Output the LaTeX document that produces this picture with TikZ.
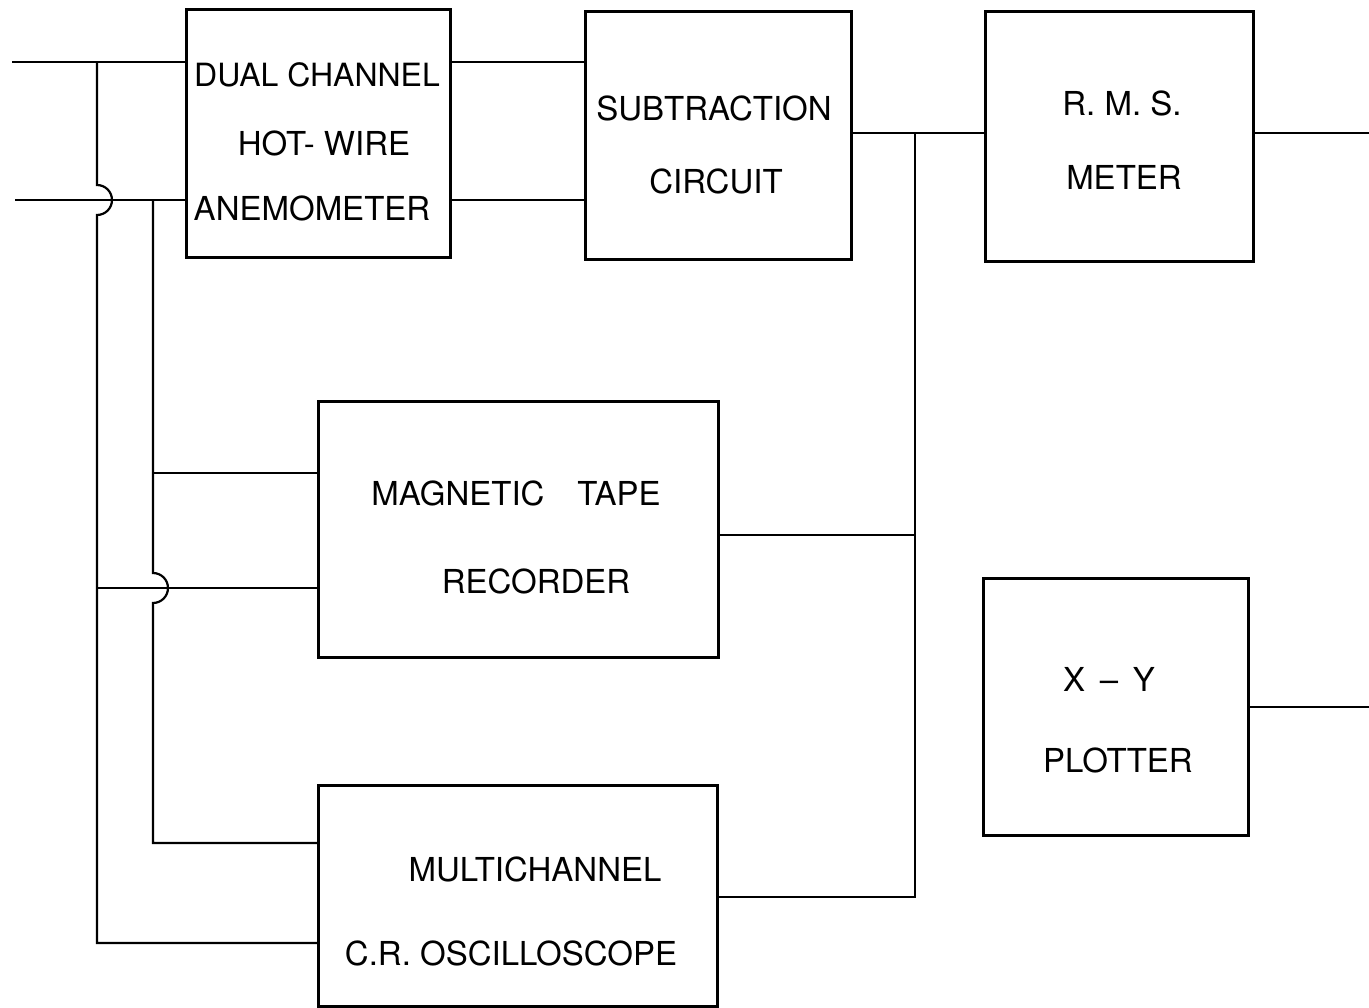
\documentclass[tikz,border=0pt]{standalone}
\usepackage{fontspec}
\setmainfont{TeX Gyre Heros}
\begin{document}
\begin{tikzpicture}[x=1pt,y=-1pt,
  box/.style={draw,line width=3pt,inner sep=0pt,outer sep=0pt},
  lbl/.style={inner sep=0pt,font=\fontsize{33}{38}\selectfont},
  wire/.style={line width=2.2pt,line join=miter}]
\useasboundingbox (0,0) rectangle (1369,1008);
% boxes
\node[box,minimum width=264pt,minimum height=248pt] (anem) at (318,134) {};
\node[box,minimum width=266pt,minimum height=248pt] (sub) at (718,136) {};
\node[box,minimum width=268pt,minimum height=250pt] (rms) at (1119,137) {};
\node[box,minimum width=400pt,minimum height=255pt] (tape) at (518,529.5) {};
\node[box,minimum width=399pt,minimum height=221pt] (osc) at (517.5,895.5) {};
\node[box,minimum width=265pt,minimum height=257pt] (xy) at (1115.5,706.5) {};
% labels
\node[lbl,font=\fontsize{32}{38}\selectfont] (t1) at (317,75) {DUAL CHANNEL};
\node[lbl] (t2) at (324,143) {HOT- WIRE};
\node[lbl] (t3) at (312,208) {ANEMOMETER};
\node[lbl] (t4) at (714,108) {SUBTRACTION};
\node[lbl] (t5) at (716,181) {CIRCUIT};
\node[lbl] (t6) at (1122,103) {R. M. S.};
\node[lbl] (t7) at (1124,177) {METER};
\node[lbl] (t8) at (516,493) {MAGNETIC\quad TAPE};
\node[lbl] (t9) at (536,581) {RECORDER};
\node[lbl] (t10) at (535,869) {MULTICHANNEL};
\node[lbl] (t11) at (511,953) {C.R. OSCILLOSCOPE};
\node[lbl] (t12) at (1109,679) {X\, -- \,Y};
\node[lbl] (t13) at (1118,760) {PLOTTER};
% coordinates
\coordinate (in1) at (12,62);
\coordinate (in2) at (15,200);
\coordinate (ja) at (97,62);
\coordinate (jb) at (153,200);
\coordinate (j1) at (915,133);
\coordinate (j2) at (915,535);
\coordinate (j3) at (915,897);
\coordinate (out1) at (1369,133);
\coordinate (out2) at (1369,707);
% wires
\draw[wire] (in1) -- (in1 -| anem.west);
\draw[wire] (in2) -- (in2 -| anem.west);
\draw[wire] (anem.east |- in1) -- (sub.west |- in1);
\draw[wire] (anem.east |- in2) -- (sub.west |- in2);
\draw[wire] (sub.east |- j1) -- (rms.west |- j1);
\draw[wire] (j1) -- (j3) -- (osc.east |- j3);
\draw[wire] (j2) -- (tape.east |- j2);
\draw[wire] (rms.east |- out1) -- (out1);
\draw[wire] (xy.east |- out2) -- (out2);
% left bus A (x=97)
\draw[wire] (ja) -- (97,185) arc[start angle=-90,end angle=90,radius=15] -- (97,943) -- (osc.west |- 0,943);
\draw[wire] (97,588) -- (tape.west |- 0,588);
% left bus B (x=153)
\draw[wire] (jb) -- (153,573) arc[start angle=-90,end angle=90,radius=15] -- (153,843) -- (osc.west |- 0,843);
\draw[wire] (153,473) -- (tape.west |- 0,473);
\end{tikzpicture}
\end{document}
